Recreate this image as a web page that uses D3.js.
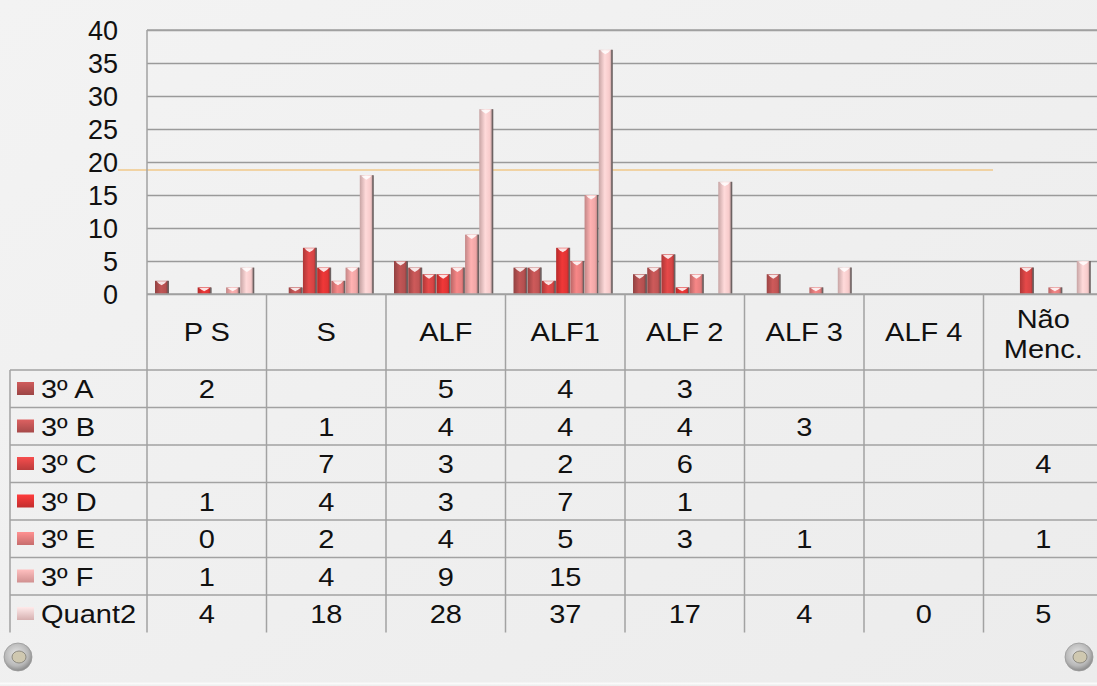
<!DOCTYPE html>
<html>
<head>
<meta charset="utf-8">
<title>Níveis de escrita - 3º ano</title>
<script src="https://d3js.org/d3.v7.min.js"></script>
<style>
  html, body { margin: 0; padding: 0; background: #efefef; }
  svg { display: block; font-family: "Liberation Sans", Arial, sans-serif; }
</style>
</head>
<body>
<div id="chart"></div>
<script>
// categories (columns) and series (rows of the data table)
var categories = ["P S", "S", "ALF", "ALF1", "ALF 2", "ALF 3", "ALF 4", "Não Menc."];
var seriesNames = ["3º A", "3º B", "3º C", "3º D", "3º E", "3º F", "Quant2"];
var serieA = [2, null, 5, 4, 3, null, null, null];
var serieB = [null, 1, 4, 4, 4, 3, null, null];
var serieC = [null, 7, 3, 2, 6, null, null, 4];
var serieD = [1, 4, 3, 7, 1, null, null, null];
var serieE = [0, 2, 4, 5, 3, 1, null, 1];
var serieF = [1, 4, 9, 15, null, null, null, null];
var quant2 = [4, 18, 28, 37, 17, 4, 0, 5];
var yTicks = [0, 5, 10, 15, 20, 25, 30, 35, 40];
var mediaLine = 18.8; // orange line, mean of Quant2 over the 6 classes

var allSeries = [serieA, serieB, serieC, serieD, serieE, serieF, quant2];
var colors = ["#b45050", "#c05454", "#d64444", "#e03434", "#e67e7e", "#f0a6a6", "#f7cbcb"];

var W = 1097, H = 686;
var plotLeft = 147, plotTop = 30, plotBase = 294;
var colW = 119.5;
var rowH = 37.5;
var tableTop = plotBase, headH = 76;
var stretch = 1.16; // table text is a bit wider than normal in the original

var svg = d3.select("#chart").append("svg").attr("width", W).attr("height", H);
var defs = svg.append("defs");

// background
var bg = defs.append("linearGradient").attr("id", "bg").attr("x1", 0).attr("y1", 0).attr("x2", 1).attr("y2", 1);
bg.append("stop").attr("offset", 0).attr("stop-color", "#f3f3f3");
bg.append("stop").attr("offset", 1).attr("stop-color", "#ececec");
svg.append("rect").attr("width", W).attr("height", H).attr("fill", "url(#bg)");
svg.append("line").attr("x1", 0).attr("x2", W).attr("y1", 683.5).attr("y2", 683.5)
   .attr("stroke", "#fafafa").attr("stroke-width", 2);

// gradients for the bars (3d cylinder look)
colors.forEach(function(c, i) {
  var g = defs.append("linearGradient").attr("id", "bar" + i).attr("x1", 0).attr("x2", 1).attr("y1", 0).attr("y2", 0);
  var col = d3.color(c);
  g.append("stop").attr("offset", 0).attr("stop-color", col.darker(0.6));
  g.append("stop").attr("offset", 0.45).attr("stop-color", col.brighter(0.2));
  g.append("stop").attr("offset", 0.8).attr("stop-color", col);
  g.append("stop").attr("offset", 1).attr("stop-color", col.darker(0.8));
  var s = defs.append("linearGradient").attr("id", "sw" + i).attr("x1", 0).attr("x2", 0).attr("y1", 0).attr("y2", 1);
  s.append("stop").attr("offset", 0).attr("stop-color", col.brighter(0.4));
  s.append("stop").attr("offset", 1).attr("stop-color", col.darker(0.4));
});

var x = d3.scaleBand().domain(categories).range([plotLeft, plotLeft + colW * categories.length]).padding(0);
var xs = d3.scaleBand().domain(d3.range(seriesNames.length)).range([8, colW - 12]).padding(0);
var y = d3.scaleLinear().domain([0, 40]).range([plotBase, plotTop]);

// gridlines
var grid = svg.append("g").attr("transform", "translate(" + plotLeft + ",0)")
  .call(d3.axisLeft(y).tickValues(yTicks).tickSize(-(W - plotLeft)).tickFormat(""));
grid.select(".domain").remove();
grid.selectAll("line").attr("stroke", "#9a9a9a").attr("stroke-width", 1.5);

// y labels
var ax = svg.append("g").attr("transform", "translate(118,0)")
  .call(d3.axisLeft(y).tickValues(yTicks).tickSize(0).tickPadding(0));
ax.select(".domain").remove();
ax.selectAll("text").attr("font-size", 27).attr("fill", "#111").attr("dy", "0.36em")
  .attr("font-family", "Liberation Sans, Arial, sans-serif");

// mean line
svg.append("line").attr("x1", 118).attr("x2", 993).attr("y1", y(mediaLine)).attr("y2", y(mediaLine))
  .attr("stroke", "#f1c98a").attr("stroke-width", 1.5);

// bars
var bars = svg.append("g");
allSeries.forEach(function(vals, si) {
  var g = bars.append("g");
  var data = categories.map(function(c, ci) { return { cat: c, v: vals[ci] }; })
    .filter(function(d) { return d.v != null && d.v > 0; });
  var bw = xs.bandwidth();
  g.selectAll("rect.b").data(data).enter().append("rect").attr("class", "b")
    .attr("x", function(d) { return x(d.cat) + xs(si); })
    .attr("y", function(d) { return y(d.v); })
    .attr("width", bw - 1)
    .attr("height", function(d) { return plotBase - y(d.v); })
    .attr("fill", "url(#bar" + si + ")");
  // shadow edge
  g.selectAll("line.e").data(data).enter().append("line").attr("class", "e")
    .attr("x1", function(d) { return x(d.cat) + xs(si) + bw - 1; })
    .attr("x2", function(d) { return x(d.cat) + xs(si) + bw - 1; })
    .attr("y1", function(d) { return y(d.v); })
    .attr("y2", plotBase)
    .attr("stroke", "#6d6262").attr("stroke-width", 1.6);
  // top highlight
  g.selectAll("path.t").data(data).enter().append("path").attr("class", "t")
    .attr("d", function(d) {
      var x0 = x(d.cat) + xs(si) + 1.5, x1 = x0 + bw - 4, yy = y(d.v) + 0.5;
      var h = Math.min(4, (plotBase - y(d.v)) * 0.5);
      return "M" + x0 + "," + yy + "L" + x1 + "," + yy + "L" + (x1 - 2) + "," + (yy + h * 0.5) +
             "L" + ((x0 + x1) / 2) + "," + (yy + h) + "L" + (x0 + 2) + "," + (yy + h * 0.5) + "Z";
    })
    .attr("fill", "#fff").attr("opacity", 0.85);
});

// table
var tbl = svg.append("g").attr("stroke", "#a2a2a2").attr("stroke-width", 1.5);
var tableBottom = tableTop + headH + rowH * seriesNames.length;
// plot border (top + left + base)
tbl.append("line").attr("x1", plotLeft).attr("x2", W).attr("y1", plotTop).attr("y2", plotTop);
tbl.append("line").attr("x1", plotLeft).attr("x2", plotLeft).attr("y1", plotTop).attr("y2", tableBottom);
tbl.append("line").attr("x1", plotLeft).attr("x2", W).attr("y1", plotBase).attr("y2", plotBase);
// column dividers
tbl.selectAll("line.col").data(categories.slice(1)).enter().append("line").attr("class", "col")
  .attr("x1", function(d) { return x(d); }).attr("x2", function(d) { return x(d); })
  .attr("y1", plotBase).attr("y2", tableBottom);
// row lines
tbl.selectAll("line.row").data(seriesNames).enter().append("line").attr("class", "row")
  .attr("x1", 10).attr("x2", W)
  .attr("y1", function(d, i) { return tableTop + headH + i * rowH; })
  .attr("y2", function(d, i) { return tableTop + headH + i * rowH; });
tbl.append("line").attr("x1", 10).attr("x2", 10).attr("y1", tableTop + headH).attr("y2", tableBottom);

function cellText(parent, tx, ty, txt, anchor) {
  return parent.append("text")
    .attr("transform", "translate(" + tx + "," + ty + ") scale(" + stretch + ",1)")
    .attr("text-anchor", anchor || "middle")
    .text(txt);
}

// header labels
var head = svg.append("g").attr("font-size", 25).attr("fill", "#111");
categories.forEach(function(c) {
  var cx = x(c) + colW / 2;
  if (c === "Não Menc.") {
    cellText(head, cx, tableTop + 34, "Não");
    cellText(head, cx, tableTop + 64, "Menc.");
  } else {
    cellText(head, cx, tableTop + 47, c);
  }
});

// row labels + values
var rows = svg.append("g").attr("font-size", 25).attr("fill", "#111");
seriesNames.forEach(function(name, si) {
  var ry = tableTop + headH + si * rowH;
  rows.append("rect").attr("x", 17).attr("y", ry + 12).attr("width", 17).attr("height", 13)
    .attr("fill", "url(#sw" + si + ")");
  cellText(rows, 41, ry + 28, name, "start");
  allSeries[si].forEach(function(v, ci) {
    if (v == null) return;
    cellText(rows, x(categories[ci]) + colW / 2, ry + 28, v);
  });
});

// screws
var sg = defs.append("radialGradient").attr("id", "screw").attr("cx", 0.45).attr("cy", 0.4).attr("r", 0.6);
sg.append("stop").attr("offset", 0).attr("stop-color", "#e8e8e8");
sg.append("stop").attr("offset", 0.7).attr("stop-color", "#b8b8b8");
sg.append("stop").attr("offset", 1).attr("stop-color", "#8a8a8a");
[18, 1079].forEach(function(cx) {
  svg.append("circle").attr("cx", cx).attr("cy", 657).attr("r", 14).attr("fill", "url(#screw)")
    .attr("stroke", "#999").attr("stroke-width", 0.8);
  svg.append("ellipse").attr("cx", cx + 1).attr("cy", 657).attr("rx", 7).attr("ry", 6)
    .attr("fill", "#cfc8b0").attr("stroke", "#8d8a80").attr("stroke-width", 1);
});
</script>
</body>
</html>
